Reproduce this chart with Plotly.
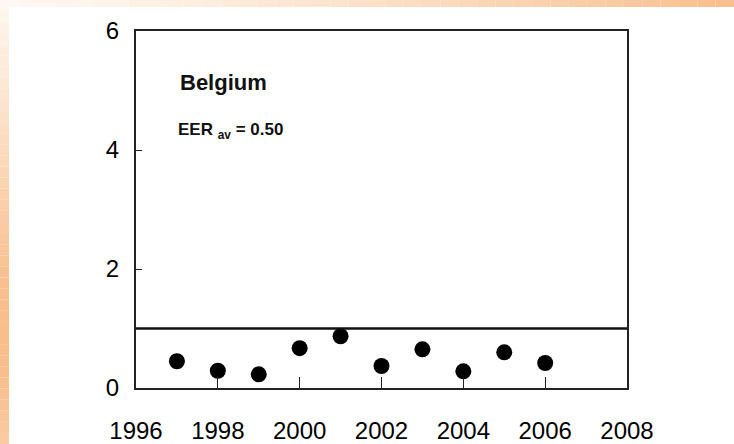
import plotly.graph_objects as go

W, H = 734, 444
L, R, T, B = 136, 107, 31, 56
FONT = "'Liberation Sans', Arial, sans-serif"

years = [1997, 1998, 1999, 2000, 2001, 2002, 2003, 2004, 2005, 2006]
eer = [0.45, 0.29, 0.23, 0.67, 0.87, 0.37, 0.65, 0.28, 0.60, 0.42]
x_ticks = [1996, 1998, 2000, 2002, 2004, 2006, 2008]
y_ticks = [0, 2, 4, 6]
threshold = 1.0
country = "Belgium"
eer_avg = 0.50


def _px_x(px):
    return (px - L) / (W - L - R)


def _px_y(py):
    return (H - B - py) / (H - T - B)


def _mix(c1, c2, t):
    return "rgb(%d,%d,%d)" % tuple(round(a + (b - a) * t) for a, b in zip(c1, c2))


def _frame_shapes():
    """Orange gradient strips along the left and top edges of the slide."""
    light = (254, 248, 242)
    orange = (249, 190, 140)
    shapes = []
    n = 40
    for i in range(n):
        y0, y1 = H * i / n, H * (i + 1) / n
        t = (i + 0.5) / n
        k = min(1.0, t / 0.65) if t < 0.85 else 1.0 - (t - 0.85) * 1.5
        shapes.append(dict(type="rect", xref="paper", yref="paper", layer="below",
                           x0=_px_x(0), x1=_px_x(9), y0=_px_y(y1), y1=_px_y(y0),
                           fillcolor=_mix(light, orange, k), line_width=0))
    for i in range(n):
        x0, x1 = W * i / n, W * (i + 1) / n
        t = (i + 0.5) / n
        shapes.append(dict(type="rect", xref="paper", yref="paper", layer="below",
                           x0=_px_x(x0), x1=_px_x(x1), y0=_px_y(7), y1=_px_y(0),
                           fillcolor=_mix(light, orange, t ** 1.3), line_width=0))
    return shapes


fig = go.Figure()
fig.add_trace(go.Scatter(
    x=years, y=eer, mode="markers",
    marker=dict(color="black", size=16, symbol="circle"),
    showlegend=False,
))

shapes = _frame_shapes()
shapes.append(dict(type="line", xref="x", yref="y", x0=x_ticks[0], x1=x_ticks[-1],
                   y0=threshold, y1=threshold, line=dict(color="#111", width=2.4)))

axis_common = dict(showgrid=False, zeroline=False, showline=True, linecolor="#222",
                   linewidth=2, mirror=True, ticks="inside", tickcolor="#222",
                   tickwidth=1, automargin=False, tickfont=dict(size=24))

fig.update_layout(
    width=W, height=H,
    margin=dict(l=L, r=R, t=T, b=B),
    paper_bgcolor="white", plot_bgcolor="white",
    font=dict(family=FONT, size=24, color="#000"),
    shapes=shapes,
    xaxis=dict(range=[1996, 2008], tickvals=x_ticks, ticklen=11,
               ticklabelstandoff=20, **axis_common),
    yaxis=dict(range=[0, 6], tickvals=y_ticks, ticklen=6,
               ticklabelstandoff=10, **axis_common),
    annotations=[
        dict(text=f"<b>{country}</b>", xref="paper", yref="paper",
             x=_px_x(223), y=_px_y(82), xanchor="center", yanchor="middle",
             showarrow=False, font=dict(size=22, color="#111")),
        dict(text=f"<b>EER <sub>av</sub> = {eer_avg:.2f}</b>", xref="paper", yref="paper",
             x=_px_x(230), y=_px_y(131), xanchor="center", yanchor="middle",
             showarrow=False, font=dict(size=17, color="#111")),
    ],
)

fig.write_html("out.html", config={"displayModeBar": False},
               post_script="document.body.style.margin = '0';")
